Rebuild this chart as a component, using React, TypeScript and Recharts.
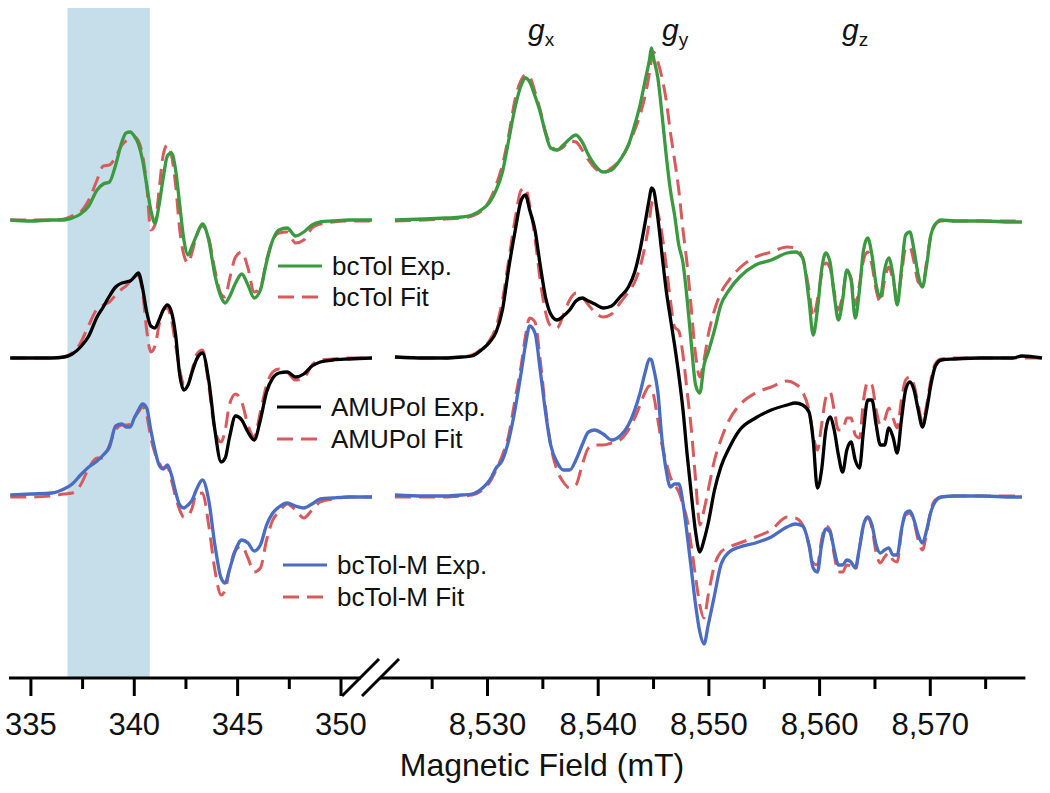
import { LineChart, Line, XAxis, YAxis, ReferenceArea, ReferenceLine } from "recharts";

// field positions (mT) for the low-field (X-band) part of the broken axis
const leftField = [334.0, 335.0, 336.0, 336.6, 337.0, 337.4, 337.8, 338.2, 338.5, 338.8, 339.1, 339.4, 339.6, 339.8, 340.0, 340.2, 340.4, 340.6, 340.8, 341.0, 341.2, 341.4, 341.6, 341.8, 342.0, 342.2, 342.4, 342.6, 342.8, 343.0, 343.3, 343.6, 343.9, 344.2, 344.4, 344.6, 344.9, 345.2, 345.5, 345.8, 346.1, 346.4, 346.7, 347.0, 347.4, 347.8, 348.2, 348.6, 349.0, 349.6, 350.4, 351.5];

const greenExpL = [0, -0.1, 0, 0, 0.2, 0.6, 1.4, 3.0, 3.6, 3.8, 5.5, 7.8, 8.7, 8.8, 8.4, 7.6, 6.0, 3.5, 1.0, -0.3, 1.5, 4.2, 6.4, 6.7, 5.0, 1.5, -2.0, -3.5, -2.6, -1.6, -0.4, -2.0, -5.5, -7.7, -8.3, -7.7, -6.3, -5.4, -6.5, -7.8, -7.0, -4.2, -2.0, -1.0, -0.8, -1.6, -1.2, -0.5, -0.2, -0.1, 0, 0];
const greenFitL = [0, 0, 0, 0.1, 0.4, 0.8, 2.0, 4.0, 5.4, 5.5, 6.3, 7.5, 7.9, 8.2, 8.3, 7.9, 6.5, 3.5, -1.0, -0.5, 3.0, 6.5, 7.5, 6.5, 3.5, -1.0, -3.5, -4.3, -3.2, -1.6, -0.6, -1.8, -5.0, -7.4, -7.7, -6.0, -3.7, -3.2, -4.8, -7.2, -6.8, -4.0, -2.0, -1.3, -1.2, -2.3, -2.0, -0.8, -0.4, -0.2, -0.1, -0.1];
const blackExpL = [0, 0, 0, 0.1, 0.4, 1.1, 2.2, 4.1, 5.1, 6.2, 7.1, 7.5, 7.6, 7.7, 8.1, 8.5, 7.0, 4.6, 3.2, 3.0, 3.8, 4.8, 5.3, 4.6, 2.3, -1.7, -3.2, -2.7, -1.4, -0.2, 0.5, -2.2, -7.2, -10.4, -10.0, -8.0, -5.8, -6.2, -7.4, -8.2, -6.2, -3.4, -2.0, -1.5, -1.4, -1.9, -1.6, -0.8, -0.4, -0.2, -0.1, 0];
const blackFitL = [0, 0, 0, 0.1, 0.5, 1.5, 3.3, 4.9, 5.3, 5.6, 6.3, 6.9, 7.2, 7.7, 8.4, 8.2, 6.6, 2.8, 0.6, 1.2, 3.3, 4.8, 5.0, 3.8, 1.3, -1.2, -2.6, -2.5, -1.2, 0.3, 0.8, -2.7, -7.2, -8.4, -7.2, -4.7, -3.6, -4.4, -6.7, -7.9, -5.4, -2.7, -1.4, -1.1, -1.4, -2.2, -2.0, -0.7, -0.2, -0.1, 0, 0];
const blueExpL = [0.1, 0.2, 0.3, 0.7, 1.2, 2.1, 2.9, 3.5, 4.1, 4.9, 7.0, 7.2, 6.9, 6.9, 7.8, 8.6, 9.2, 8.8, 6.6, 4.6, 3.1, 2.7, 3.1, 2.1, 0.4, -0.9, -1.2, -0.9, -0.4, 0.6, 1.6, -0.4, -4.9, -8.2, -8.7, -7.4, -5.4, -4.4, -4.7, -5.5, -4.9, -2.9, -1.7, -1.1, -0.7, -1.0, -1.2, -0.8, -0.3, -0.2, -0.1, -0.1];
const blueFitL = [-0.1, -0.1, 0, 0.2, 0.3, 1.1, 2.8, 3.8, 3.8, 5.1, 6.6, 7.1, 7.1, 7.2, 7.8, 8.4, 8.9, 8.1, 5.8, 4.3, 3.3, 2.8, 2.9, 1.6, -0.1, -1.4, -2.1, -2.0, -1.2, 0.2, 0.3, -2.9, -7.4, -9.9, -9.4, -7.4, -5.4, -5.0, -6.2, -7.6, -7.2, -4.4, -2.4, -1.6, -0.8, -1.4, -2.2, -1.4, -0.6, -0.3, -0.1, -0.1];

// field positions (mT) for the high-field part
const rightField = [8521.64, 8524.33, 8526.22, 8527.65, 8528.6, 8529.55, 8530.21, 8530.78, 8531.35, 8531.92, 8532.48, 8533.05, 8533.43, 8533.81, 8534.29, 8534.76, 8535.24, 8535.71, 8536.28, 8536.85, 8537.42, 8537.99, 8538.55, 8539.12, 8539.69, 8540.45, 8541.21, 8541.97, 8542.73, 8543.3, 8543.78, 8544.25, 8544.63, 8544.81, 8545.0, 8545.39, 8545.77, 8546.14, 8546.52, 8546.9, 8547.28, 8547.66, 8548.04, 8548.42, 8548.8, 8549.18, 8549.56, 8549.94, 8550.51, 8551.08, 8551.83, 8552.78, 8554.21, 8555.63, 8557.06, 8557.81, 8558.47, 8559.04, 8559.42, 8559.8, 8560.18, 8560.56, 8560.94, 8561.32, 8561.7, 8562.08, 8562.46, 8562.84, 8563.22, 8563.6, 8563.97, 8564.35, 8564.73, 8565.11, 8565.49, 8565.87, 8566.25, 8566.63, 8567.01, 8567.39, 8567.77, 8568.15, 8568.53, 8568.91, 8569.29, 8569.67, 8570.05, 8570.43, 8570.99, 8572.23, 8574.58, 8577.44, 8578.28, 8580.09];

const greenExpR = [0, 0.1, 0.2, 0.3, 0.5, 1.1, 1.8, 3.0, 4.8, 8.0, 11.2, 13.5, 14.2, 13.8, 12.4, 10.8, 8.7, 7.2, 7.0, 7.5, 8.1, 8.5, 7.8, 6.5, 5.5, 4.8, 5.0, 6.0, 7.5, 9.5, 11.5, 14.0, 16.0, 17.2, 16.2, 14.2, 10.5, 6.5, 3.0, 0.5, -2.5, -4.3, -8.0, -12.5, -16.5, -17.3, -14.5, -13.2, -11.0, -8.5, -7.0, -5.7, -4.5, -4.0, -3.3, -3.2, -3.8, -8.0, -11.5, -9.0, -5.0, -3.3, -4.2, -7.5, -10.0, -8.0, -5.0, -6.0, -9.8, -7.0, -3.0, -1.8, -3.5, -6.5, -7.7, -5.0, -3.8, -5.5, -8.5, -5.0, -1.5, -1.2, -3.0, -5.5, -6.7, -4.5, -1.5, -0.5, 0, -0.1, -0.1, -0.2, -0.2, null];
const greenFitR = [-0.1, 0, 0.1, 0.2, 0.4, 1.0, 2.0, 3.5, 5.5, 8.5, 12.0, 14.0, 14.5, 14.3, 12.8, 11.0, 8.8, 7.5, 7.0, 7.3, 7.9, 7.8, 7.0, 6.0, 5.2, 4.7, 5.2, 6.0, 7.5, 9.0, 10.5, 12.5, 14.7, 16.0, 16.8, 15.8, 14.2, 12.0, 8.8, 6.0, 3.0, -1.0, -4.5, -9.0, -13.5, -15.7, -14.0, -11.5, -9.0, -7.3, -6.0, -4.8, -3.7, -3.2, -2.7, -2.8, -3.8, -7.0, -9.7, -8.0, -5.5, -4.3, -4.8, -7.2, -9.0, -7.5, -5.2, -5.8, -8.5, -6.5, -4.0, -3.2, -4.5, -7.0, -8.2, -6.0, -4.7, -6.0, -7.8, -5.5, -2.8, -2.7, -4.2, -6.2, -6.5, -4.2, -1.5, -0.4, -0.1, -0.1, -0.1, -0.1, -0.1, null];
const blackExpR = [0.1, 0, 0, 0.1, 0.2, 0.9, 1.6, 2.6, 4.8, 9.0, 12.6, 15.8, 16.3, 14.8, 12.8, 9.3, 6.1, 4.4, 3.8, 4.2, 4.8, 5.7, 6.0, 5.7, 5.4, 5.0, 5.2, 6.1, 7.1, 8.6, 10.8, 13.6, 16.0, 17.0, 16.8, 14.0, 10.3, 6.8, 4.0, 1.3, -1.7, -5.2, -9.7, -13.7, -17.4, -19.4, -18.2, -16.5, -13.2, -10.9, -9.0, -7.2, -6.0, -5.2, -4.7, -4.5, -4.7, -5.4, -8.2, -13.0, -11.2, -7.2, -5.9, -7.2, -9.7, -11.4, -9.2, -8.4, -10.2, -11.0, -7.2, -4.2, -4.2, -6.7, -8.7, -8.7, -7.0, -7.9, -9.5, -6.2, -3.2, -2.4, -3.2, -5.2, -6.9, -5.2, -2.7, -0.9, -0.2, -0.1, 0, 0, 0.2, 0];
const blackFitR = [0.1, 0, 0, 0.1, 0.3, 1.0, 1.8, 3.1, 5.8, 9.8, 13.8, 16.8, 17.0, 15.3, 12.0, 7.8, 4.6, 3.2, 3.0, 4.3, 5.8, 6.5, 6.1, 5.3, 4.6, 4.1, 4.4, 5.5, 6.6, 7.6, 9.1, 11.3, 13.8, 15.3, 15.8, 14.6, 12.3, 9.3, 5.8, 3.1, 2.7, 0.3, -3.4, -7.2, -12.2, -16.7, -15.2, -13.2, -10.2, -8.2, -6.2, -4.7, -3.5, -2.9, -2.3, -2.6, -3.4, -5.2, -7.7, -9.2, -6.7, -4.0, -3.4, -5.2, -7.2, -7.2, -6.0, -6.0, -7.7, -8.0, -4.2, -2.4, -2.7, -5.2, -6.7, -6.2, -5.0, -6.0, -7.0, -4.2, -2.2, -1.9, -2.7, -4.7, -6.4, -4.7, -2.2, -0.6, -0.1, 0, 0, 0, 0, 0];
const blueExpR = [0.1, 0, 0, 0.1, 0.2, 0.8, 1.6, 2.8, 3.6, 5.6, 8.6, 12.4, 15.1, 17.0, 16.3, 12.6, 8.4, 5.1, 3.4, 2.6, 2.6, 3.6, 5.1, 6.4, 6.6, 6.2, 5.6, 6.0, 7.1, 8.6, 10.3, 12.4, 13.7, 13.6, 12.8, 10.4, 5.6, 2.6, 0.9, 1.2, 1.2, -0.7, -3.9, -7.4, -10.9, -13.6, -14.8, -12.9, -9.9, -6.9, -5.6, -5.1, -4.7, -4.1, -3.1, -2.8, -3.0, -4.9, -7.2, -7.6, -4.9, -3.3, -3.6, -5.4, -6.9, -6.9, -6.4, -6.6, -7.2, -5.2, -2.9, -2.1, -2.9, -4.9, -5.7, -5.4, -5.2, -5.9, -5.9, -3.4, -1.7, -1.5, -2.4, -3.9, -4.7, -3.4, -1.6, -0.6, -0.1, 0, 0, -0.1, -0.1, null];
const blueFitR = [-0.1, -0.1, -0.1, 0, 0.1, 0.6, 1.4, 2.6, 4.1, 6.1, 9.6, 13.1, 16.0, 17.8, 17.4, 13.6, 8.8, 5.1, 2.6, 1.4, 0.8, 1.1, 3.1, 4.8, 5.1, 5.1, 5.3, 5.6, 6.6, 7.8, 9.1, 10.4, 11.0, 10.8, 10.1, 7.6, 5.1, 3.4, 1.9, 1.1, 0.4, -0.9, -2.4, -5.1, -8.1, -10.9, -12.2, -9.9, -6.9, -5.6, -5.1, -4.7, -4.1, -3.4, -2.1, -2.2, -2.9, -4.9, -6.7, -6.9, -4.4, -3.0, -3.4, -5.9, -7.6, -7.6, -6.9, -7.0, -7.4, -5.2, -2.9, -2.2, -3.2, -5.7, -6.7, -6.1, -5.7, -6.4, -6.6, -3.6, -1.9, -1.7, -2.6, -4.4, -5.4, -3.7, -1.4, -0.4, -0.1, 0, 0, 0, 0, null];

// vertical stacking of the three samples
const OFFSET = { green: 45.8, black: 32, blue: 18.2 };

const leftTicks = [335, 337.5, 340, 342.5, 345, 347.5, 350];
const leftMajor = [335, 340, 345, 350];
const rightTicks = [8525, 8530, 8535, 8540, 8545, 8550, 8555, 8560, 8565, 8570, 8575];
const rightMajor = [8530, 8540, 8550, 8560, 8570];
const bandRange = [336.77, 340.75];

const C = {
  green: "#3b9a40",
  black: "#000000",
  blue: "#4a6cc2",
  fit: "#d95a5c",
  band: "#c5deea",
};

const FONT = '"Liberation Sans", Arial, Helvetica, sans-serif';

type Vals = (number | null)[];

function toRows(field: number[], cols: Record<string, Vals>) {
  return field.map((f, i) => {
    const row: Record<string, number | null> = { field: f };
    for (const k of Object.keys(cols)) {
      const v = cols[k][i];
      const off = k.startsWith("green") ? OFFSET.green : k.startsWith("black") ? OFFSET.black : OFFSET.blue;
      row[k] = v == null ? null : v + off;
    }
    return row;
  });
}

const leftRows = toRows(leftField, {
  greenExp: greenExpL, greenFit: greenFitL,
  blackExp: blackExpL, blackFit: blackFitL,
  blueExp: blueExpL, blueFit: blueFitL,
});
const rightRows = toRows(rightField, {
  greenExp: greenExpR, greenFit: greenFitR,
  blackExp: blackExpR, blackFit: blackFitR,
  blueExp: blueExpR, blueFit: blueFitR,
});

// fits first so the measured traces sit on top
const SERIES = [
  { key: "greenFit", color: C.fit, dashed: true },
  { key: "blackFit", color: C.fit, dashed: true },
  { key: "blueFit", color: C.fit, dashed: true },
  { key: "greenExp", color: C.green, dashed: false },
  { key: "blackExp", color: C.black, dashed: false },
  { key: "blueExp", color: C.blue, dashed: false },
];

const LEGEND = [
  { label: "bcTol Exp.", color: C.green, dashed: false, x: 278, y: 266 },
  { label: "bcTol Fit", color: C.fit, dashed: true, x: 278, y: 297 },
  { label: "AMUPol Exp.", color: C.black, dashed: false, x: 277, y: 407 },
  { label: "AMUPol Fit", color: C.fit, dashed: true, x: 277, y: 439 },
  { label: "bcTol-M Exp.", color: C.blue, dashed: false, x: 283, y: 565 },
  { label: "bcTol-M Fit", color: C.fit, dashed: true, x: 283, y: 597 },
];

const G_LABELS = [
  { sub: "x", x: 528 },
  { sub: "y", x: 662 },
  { sub: "z", x: 842 },
];

const makeTick = (majors: number[]) => (props: any) => {
  const { x, y, payload } = props;
  const major = majors.includes(payload.value);
  return (
    <g>
      <line x1={x} x2={x} y1={y} y2={y + (major ? 18 : 11)} stroke="#000" strokeWidth={3} />
      {major && (
        <text x={x} y={y + 57} textAnchor="middle" fontSize={31} fill="#111" fontFamily={FONT}>
          {payload.value.toLocaleString("en-US")}
        </text>
      )}
    </g>
  );
};

interface PanelProps {
  rows: Record<string, number | null>[];
  domain: [number, number];
  axisEnd: number;
  ticks: number[];
  majors: number[];
  width: number;
  margin: { top: number; right: number; bottom: number; left: number };
  band?: number[];
}

function Panel({ rows, domain, axisEnd, ticks, majors, width, margin, band }: PanelProps) {
  return (
    <LineChart width={width} height={793} data={rows} margin={margin}>
      {band && <ReferenceArea x1={band[0]} x2={band[1]} fill={C.band} fillOpacity={1} stroke="none" ifOverflow="visible" />}
      <XAxis
        dataKey="field"
        type="number"
        domain={domain}
        ticks={ticks}
        interval={0}
        axisLine={false}
        tickLine={false}
        tickSize={0}
        tickMargin={0}
        height={80}
        tick={makeTick(majors)}
      />
      <YAxis hide domain={[0, 67]} />
      <ReferenceLine
        segment={[{ x: domain[0], y: 0 }, { x: axisEnd, y: 0 }]}
        stroke="#000"
        strokeWidth={3}
        ifOverflow="visible"
      />
      {SERIES.map((s) => (
        <Line
          key={s.key}
          dataKey={s.key}
          type="monotone"
          stroke={s.color}
          strokeWidth={s.dashed ? 3 : 3.3}
          strokeDasharray={s.dashed ? "16 8" : undefined}
          dot={false}
          activeDot={false}
          isAnimationActive={false}
        />
      ))}
    </LineChart>
  );
}

export default function App() {
  return (
    <div style={{ position: "absolute", left: 0, top: 0, width: 1050, height: 793, background: "#fff", fontFamily: FONT }}>
      <div style={{ position: "absolute", left: 0, top: 0 }}>
        <Panel
          rows={leftRows}
          domain={[333.94, 351.5]}
          axisEnd={350.97}
          ticks={leftTicks}
          majors={leftMajor}
          width={380}
          margin={{ top: 8, right: 8, bottom: 35, left: 9 }}
          band={bandRange}
        />
      </div>
      <div style={{ position: "absolute", left: 370, top: 0 }}>
        <Panel
          rows={rightRows}
          domain={[8520.29, 8580.09]}
          axisEnd={8578.59}
          ticks={rightTicks}
          majors={rightMajor}
          width={680}
          margin={{ top: 8, right: 8, bottom: 35, left: 10 }}
        />
      </div>
      <svg width={1050} height={793} style={{ position: "absolute", left: 0, top: 0, pointerEvents: "none" }}>
        {/* axis break marks */}
        <line x1={342} y1={696} x2={379} y2={659} stroke="#000" strokeWidth={3} />
        <line x1={362} y1={696} x2={399} y2={659} stroke="#000" strokeWidth={3} />
        {G_LABELS.map((g) => (
          <text key={g.sub} x={g.x} y={40} fontSize={30} fontStyle="italic" fill="#111" fontFamily={FONT}>
            g
            <tspan fontStyle="normal" fontSize={19} dy={6}>{g.sub}</tspan>
          </text>
        ))}
        {LEGEND.map((l) => (
          <g key={l.label}>
            <line
              x1={l.x}
              x2={l.x + 44}
              y1={l.y}
              y2={l.y}
              stroke={l.color}
              strokeWidth={3}
              strokeDasharray={l.dashed ? "16 8" : undefined}
            />
            <text x={l.x + 54} y={l.y + 9} fontSize={26} fill="#111" fontFamily={FONT}>
              {l.label}
            </text>
          </g>
        ))}
        <text x={542} y={776} textAnchor="middle" fontSize={32} fill="#111" fontFamily={FONT}>
          Magnetic Field (mT)
        </text>
      </svg>
    </div>
  );
}
